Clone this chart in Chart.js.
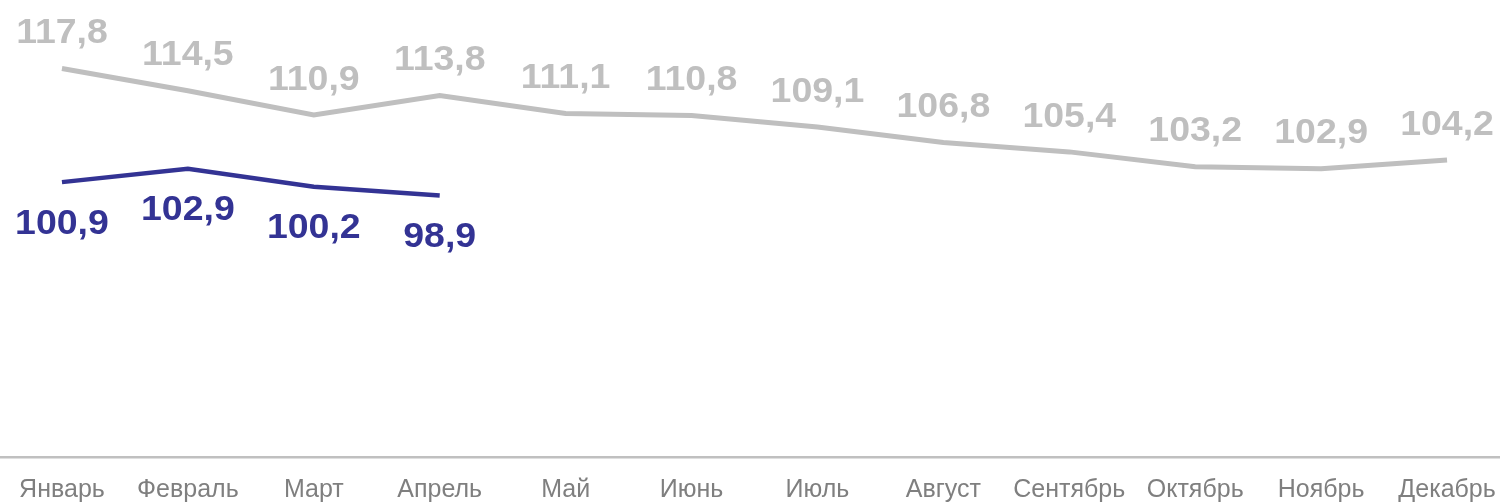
<!DOCTYPE html>
<html>
<head>
<meta charset="utf-8">
<script src="https://cdn.jsdelivr.net/npm/chart.js@4"></script>
<style>
  html, body { margin: 0; padding: 0; background: #fff; overflow: hidden; }
  #wrap { width: 1511px; height: 502px; margin-left: -1px; }
</style>
</head>
<body>
<div id="wrap"><canvas id="grafico"></canvas></div>
<script>
const meses = ['Январь', 'Февраль', 'Март', 'Апрель', 'Май', 'Июнь', 'Июль', 'Август', 'Сентябрь', 'Октябрь', 'Ноябрь', 'Декабрь'];
const anterior = [117.8, 114.5, 110.9, 113.8, 111.1, 110.8, 109.1, 106.8, 105.4, 103.2, 102.9, 104.2];
const actual = [100.9, 102.9, 100.2, 98.9];

const GRIS = '#bfbfbf';
const AZUL = '#333394';

// values written over / under each point, like the data labels in Excel
const etiquetas = {
  id: 'etiquetas',
  afterDatasetsDraw(chart) {
    const ctx = chart.ctx;
    ctx.save();
    ctx.font = 'bold 35px "Liberation Sans", Arial, sans-serif';
    ctx.textAlign = 'center';
    ctx.textBaseline = 'middle';
    chart.data.datasets.forEach((ds, i) => {
      const meta = chart.getDatasetMeta(i);
      ctx.fillStyle = ds.borderColor;
      meta.data.forEach((p, j) => {
        const txt = ds.data[j].toFixed(1).replace('.', ',');
        const dy = ds.labelPos === 'above' ? -35 : 42;
        ctx.save();
        ctx.translate(p.x, p.y + dy);
        ctx.scale(1.07, 1);
        ctx.fillText(txt, 0, 0);
        ctx.restore();
      });
    });
    ctx.restore();
  }
};

const grafico = new Chart(document.getElementById('grafico'), {
  type: 'line',
  data: {
    labels: meses,
    datasets: [
      {
        label: 'anterior',
        data: anterior,
        borderColor: GRIS,
        borderWidth: 5,
        pointRadius: 0,
        labelPos: 'above',
      },
      {
        label: 'actual',
        data: actual,
        borderColor: AZUL,
        borderWidth: 4.5,
        pointRadius: 0,
        labelPos: 'below',
      }
    ],
  },
  options: {
    responsive: true,
    maintainAspectRatio: false,
    animation: false,
    layout: { padding: 0 },
    plugins: {
      legend: { display: false },
      tooltip: { enabled: false },
    },
    scales: {
      x: {
        offset: true,
        grid: { display: false },
        border: { display: true, color: '#c0c0c0', width: 2.5 },
        ticks: {
          color: '#7f7f7f',
          font: { family: '"Liberation Sans", Arial, sans-serif', size: 25 },
          padding: 10,
          maxRotation: 0,
          autoSkip: false,
        },
        afterFit: (s) => { s.height = 45; },
      },
      y: {
        display: false,
        min: 60,
        max: 128,
      },
    },
  },
  plugins: [etiquetas],
});
</script>
</body>
</html>
